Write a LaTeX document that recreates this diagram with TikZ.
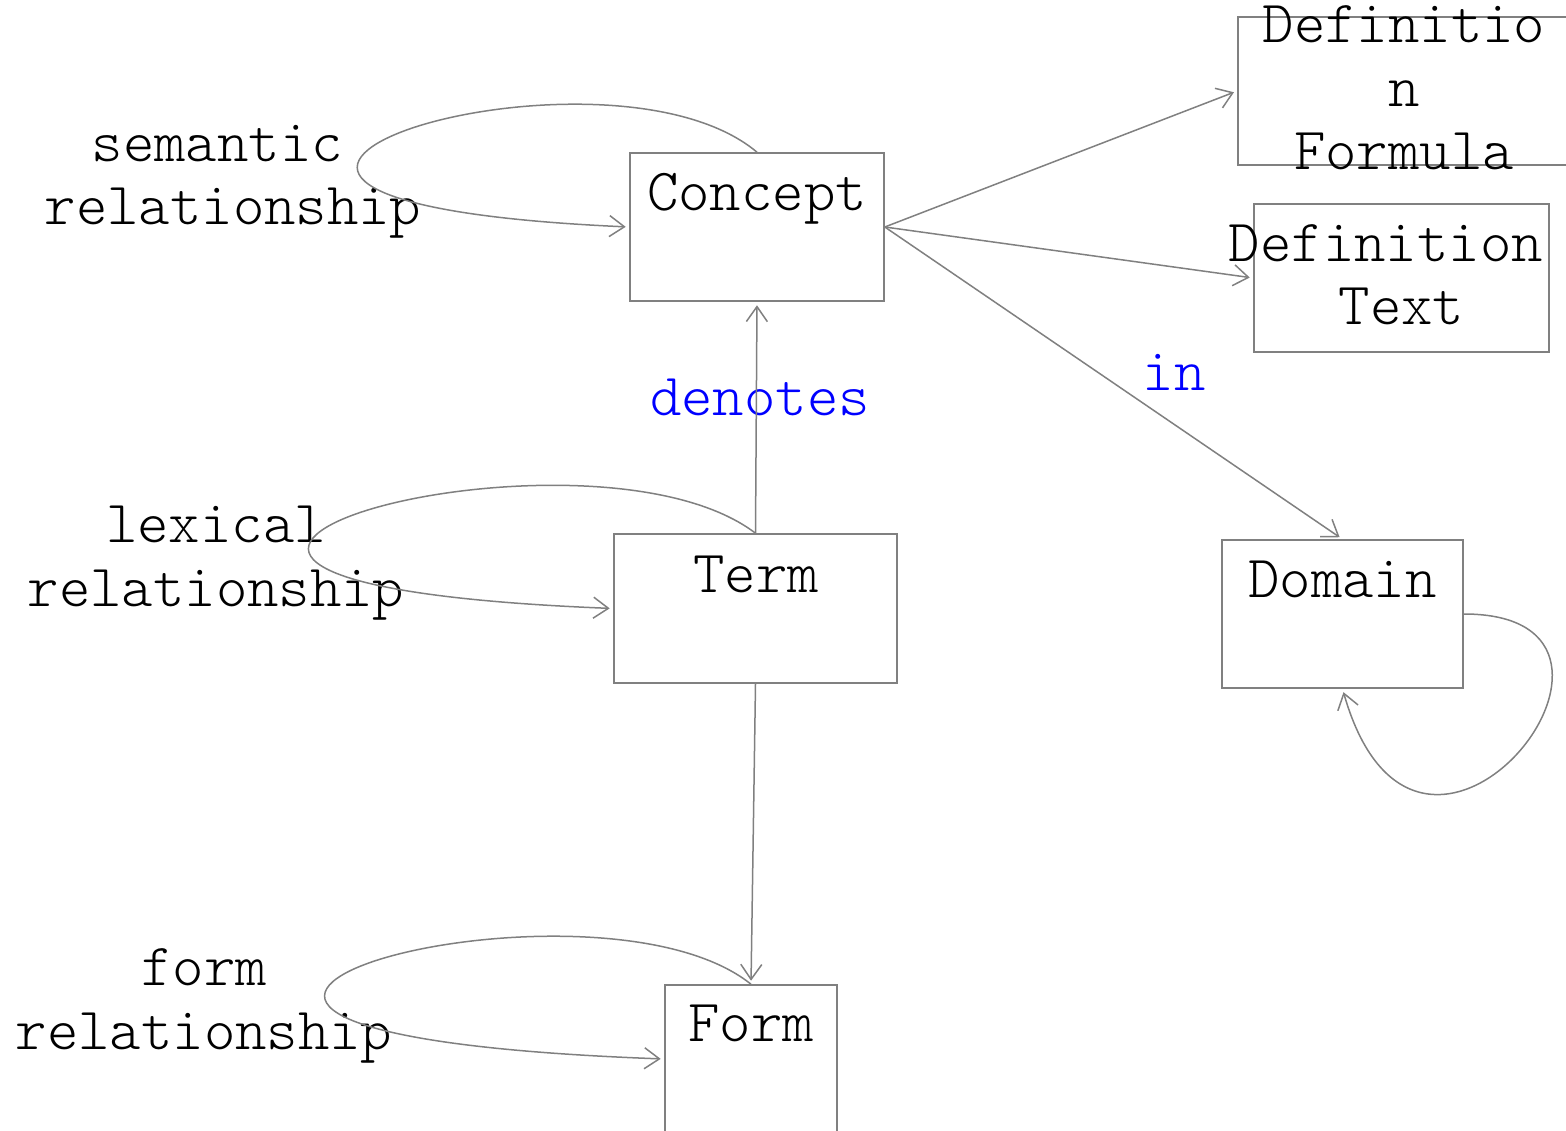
\documentclass[tikz,border=0pt]{standalone}
\usepackage{fontspec}
\setmainfont{Latin Modern Mono Light}
\usetikzlibrary{arrows.meta}
\definecolor{linegray}{RGB}{128,128,128}
\definecolor{relblue}{RGB}{0,0,255}
\begin{document}
\begin{tikzpicture}[x=1pt,y=-1pt,
  box/.style={draw=linegray, line width=1.6pt, inner sep=0pt, rectangle},
  txt/.style={font=\fontsize{59.8}{63.5}\selectfont, inner sep=0pt, anchor=base, align=center},
  rel/.style={txt, text=relblue},
  link/.style={draw=linegray, line width=1.5pt,
    -{Straight Barb[length=15pt,width=21pt,line width=1.5pt]}, shorten >=3.5pt},
]
\fill[white] (0,0) rectangle (1566,1131);
\useasboundingbox (0,0) rectangle (1566,1131);
\clip (0,0) rectangle (1566,1131);

% boxes
\node[box, minimum width=254pt, minimum height=148pt] (concept)  at (757,227) {};
\node[box, minimum width=332pt, minimum height=148pt] (dformula) at (1404,91) {};
\node[box, minimum width=295pt, minimum height=148pt] (dtext)    at (1401.5,278) {};
\node[box, minimum width=241pt, minimum height=148pt] (domain)   at (1342.5,614) {};
\node[box, minimum width=283pt, minimum height=149pt] (term)     at (755.5,608.5) {};
\node[box, minimum width=172pt, minimum height=148pt] (form)     at (751,1059) {};

% box captions (base anchor = baseline of the last line)
\node[txt] (conceptcap)  at (757,211)    {Concept};
\node[txt] (dformulacap) at (1404,170)   {Definitio\\n\\Formula};
\node[txt] (dtextcap)    at (1401.5,325) {Definition\hphantom{x}\\Text};
\node[txt] (domaincap)   at (1342.5,597) {Domain};
\node[txt] (termcap)     at (756,592)    {Term};
\node[txt] (formcap)     at (751,1041)   {Form};

% relationship captions
\node[txt] (semcap)  at (233,225)  {semantic\hphantom{x}\\relationship};
\node[txt] (lexcap)  at (216,606)  {lexical\\relationship};
\node[txt] (formrel) at (204,1049) {form\\relationship};
\node[rel] (denotes) at (760,415) {denotes};
\node[rel] (inlbl)   at (1174,391) {in};

% connectors
\draw[link] (concept.east) -- (dformula.west);
\draw[link] (concept.east) -- (dtext.west);
\draw[link] (concept.east) -- (domain.north);
\draw[link] (term.north) -- (concept.south);
\draw[link] (term.south) -- (form.north);

% self loops
\draw[link] (concept.north) .. controls (600,20) and (25,200) .. (concept.west);
\draw[link] (term.north) .. controls (582,401) and (-65,581.5) .. (term.west);
\draw[link] (form.north) .. controls (586,852) and (-64,1032) .. (form.west);
\draw[link] (domain.east) .. controls (1690,614) and (1420,960) .. (domain.south);
\end{tikzpicture}
\end{document}
